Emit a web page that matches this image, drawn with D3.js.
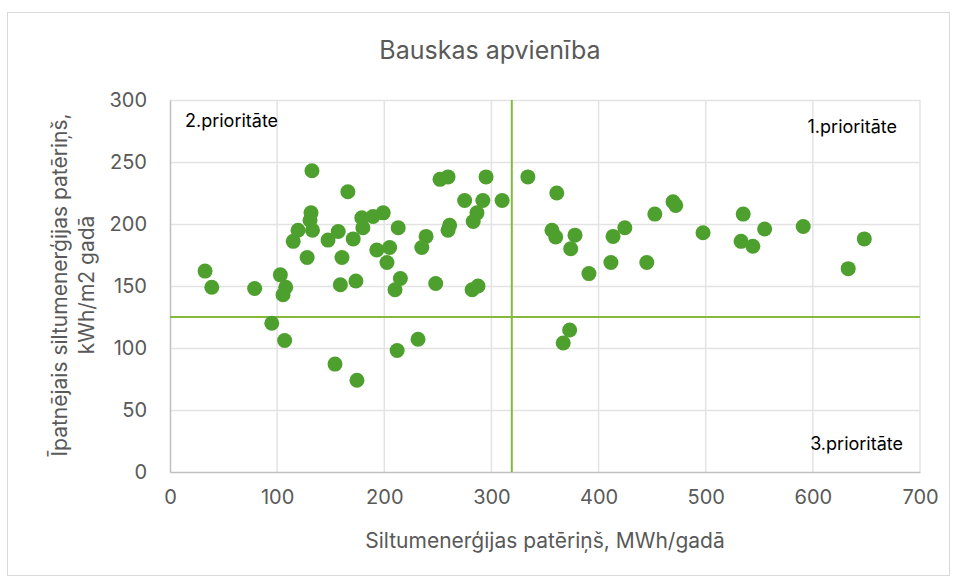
<!DOCTYPE html>
<html>
<head>
<meta charset="utf-8">
<script src="https://cdn.jsdelivr.net/npm/d3@7"></script>
<style>
  body { margin: 0; background: #fff; }
  svg text { font-family: Inter, "Liberation Sans", Arial, sans-serif; }
</style>
</head>
<body>
<div id="chart"></div>
<script>
// heat consumption MWh/year
const consumption = [
  32.7, 39, 79, 95, 103, 105.5, 108, 107,
  132.5, 166, 131.6, 130.7, 133, 119.5, 115, 128, 147.5, 157, 160.5, 171,
  159, 173.5, 154, 174.5,
  179, 180, 189.5, 199, 213, 193, 205, 202.5, 215, 210, 212, 231.5,
  239, 235, 248, 252, 259.5, 261, 259.5, 275, 283, 286.5, 292, 295, 310, 282, 287.5,
  334, 361, 356.5, 360, 378, 374, 391, 373, 367, 411.5, 413.5, 424.5, 445, 452.5,
  469.5, 472, 497.5, 535, 533, 544, 555, 591, 633, 648
];
// specific consumption kWh/m2 per year
const specific = [
  162, 149, 148, 120, 159, 143, 149, 106,
  243, 226, 209, 203, 195, 195, 186, 173, 187, 194, 173, 188,
  151, 154, 87, 74,
  205, 197, 206, 209, 197, 179, 181, 169, 156, 147, 98, 107,
  190, 181, 152, 236, 238, 199, 195, 219, 202, 209, 219, 238, 219, 147, 150,
  238, 225, 195, 189.5, 191, 180, 160, 114.5, 104, 169, 190, 197, 169, 208,
  218, 215, 193, 208, 186, 182, 196, 198, 164, 188
];
const xTicks = [0, 100, 200, 300, 400, 500, 600, 700];
const yTicks = [0, 50, 100, 150, 200, 250, 300];
const thresholdX = 319;
const thresholdY = 125;

const width = 958, height = 580;
const margin = { top: 100, right: 38, bottom: 108, left: 170 };
const innerW = width - margin.left - margin.right;
const innerH = height - margin.top - margin.bottom;

const svg = d3.select("#chart").append("svg")
  .attr("width", width)
  .attr("height", height);

// chart frame
svg.append("rect")
  .attr("x", 7.5).attr("y", 12.5)
  .attr("width", 942).attr("height", 563)
  .attr("fill", "#fff")
  .attr("stroke", "#d9d9d9");

const g = svg.append("g")
  .attr("transform", `translate(${margin.left},${margin.top})`);

const x = d3.scaleLinear().domain([0, 700]).range([0, innerW]);
const y = d3.scaleLinear().domain([0, 300]).range([innerH, 0]);

// gridlines
g.append("g").selectAll("line")
  .data(yTicks.filter(d => d > 0))
  .join("line")
  .attr("x1", 0).attr("x2", innerW)
  .attr("y1", d => y(d) + 0.5).attr("y2", d => y(d) + 0.5)
  .attr("stroke", "#e3e3e3").attr("stroke-width", 1.5);

g.append("g").selectAll("line")
  .data(xTicks.filter(d => d > 0))
  .join("line")
  .attr("x1", d => x(d)).attr("x2", d => x(d))
  .attr("y1", 0).attr("y2", innerH)
  .attr("stroke", "#e3e3e3").attr("stroke-width", 1.5);

// axes
const xAxis = g.append("g")
  .attr("transform", `translate(0,${innerH})`)
  .call(d3.axisBottom(x).tickValues(xTicks).tickSize(0).tickPadding(18));
const yAxis = g.append("g")
  .call(d3.axisLeft(y).tickValues(yTicks).tickSize(0).tickPadding(23));

[xAxis, yAxis].forEach(a => {
  a.select(".domain").attr("stroke", "#bfbfbf").attr("stroke-width", 1.5);
  a.selectAll("text")
    .attr("fill", "#595959")
    .style("font-size", "20px");
});

// quadrant lines
g.append("line")
  .attr("x1", x(thresholdX)).attr("x2", x(thresholdX))
  .attr("y1", 0).attr("y2", innerH)
  .attr("stroke", "#84b93c").attr("stroke-width", 2);
g.append("line")
  .attr("x1", 0).attr("x2", innerW)
  .attr("y1", y(thresholdY)).attr("y2", y(thresholdY))
  .attr("stroke", "#84b93c").attr("stroke-width", 2);

// points
g.append("g").selectAll("circle")
  .data(consumption.map((c, i) => ({ c: c, s: specific[i] })))
  .join("circle")
  .attr("cx", d => x(d.c))
  .attr("cy", d => y(d.s))
  .attr("r", 7.5)
  .attr("fill", "#4ea02e");

// quadrant labels
const quad = [
  { t: "2.prioritāte", x: 15, y: 27, anchor: "start" },
  { t: "1.prioritāte", x: innerW - 23, y: 33, anchor: "end" },
  { t: "3.prioritāte", x: innerW - 17, y: innerH - 22, anchor: "end" }
];
g.selectAll(".quad")
  .data(quad)
  .join("text")
  .attr("class", "quad")
  .attr("x", d => d.x).attr("y", d => d.y)
  .attr("text-anchor", d => d.anchor)
  .attr("fill", "#000")
  .style("font-size", "18px")
  .text(d => d.t);

// title
svg.append("text")
  .attr("x", 490).attr("y", 59)
  .attr("text-anchor", "middle")
  .attr("fill", "#595959")
  .style("font-size", "25px")
  .text("Bauskas apvienība");

// axis titles
svg.append("text")
  .attr("x", 545).attr("y", 548)
  .attr("text-anchor", "middle")
  .attr("fill", "#595959")
  .style("font-size", "21px")
  .text("Siltumenerģijas patēriņš, MWh/gadā");

const yt = svg.append("text")
  .attr("transform", "translate(0,285) rotate(-90)")
  .attr("text-anchor", "middle")
  .attr("fill", "#595959")
  .style("font-size", "21px");
yt.append("tspan").attr("x", 0).attr("y", 67).text("Īpatnējais siltumenerģijas patēriņš,");
yt.append("tspan").attr("x", 0).attr("y", 94).text("kWh/m2 gadā");
</script>
</body>
</html>
